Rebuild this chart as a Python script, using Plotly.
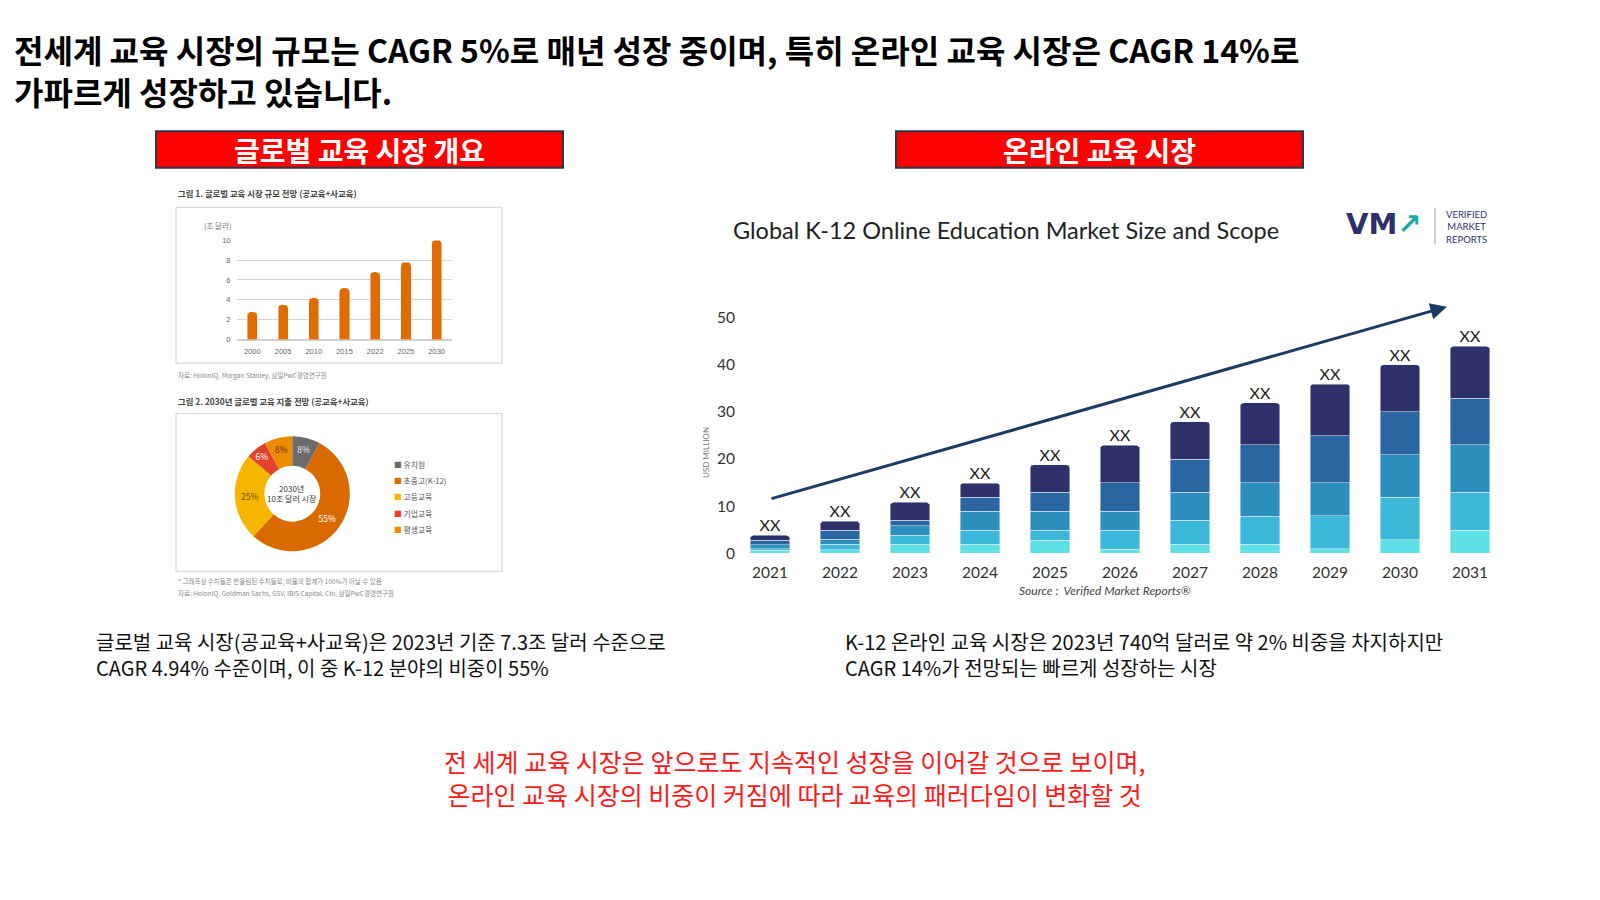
import plotly.graph_objects as go

# page body keeps its default 8px margin, so the figure is drawn 8px smaller
OFF = 8
W, H = 1600 - OFF, 900 - OFF
KR = "Noto Sans CJK KR"


def px(x):
    return (x - OFF) / W


def py(y):
    return 1 - (y - OFF) / H


# 그림 1: 글로벌 교육 시장 규모 (조 달러)
size_years = ['2000', '2005', '2010', '2015', '2022', '2025', '2030']
size_values = [2.8, 3.5, 4.2, 5.2, 6.8, 7.8, 10.0]

# 그림 2: 2030년 글로벌 교육 지출 비중 (%)
spend_labels = ['유치원', '초중고(K-12)', '고등교육', '기업교육', '평생교육']
spend_share = [8, 55, 25, 6, 8]
spend_colors = ['#6b6b6b', '#d96a00', '#f7b500', '#e3432b', '#ec8b00']
spend_text_colors = ['#f2f2f2', '#ffffff', '#6a4a00', '#ffffff', '#5a3800']

# K-12 online education market, stacked segments (bottom -> top)
online_years = [2021, 2022, 2023, 2024, 2025, 2026, 2027, 2028, 2029, 2030, 2031]
seg_a = [0.6, 0.8, 1.9, 1.9, 2.8, 0.9, 1.9, 1.9, 1.0, 2.9, 4.9]
seg_b = [0.4, 1.1, 1.9, 3.0, 2.1, 4.0, 5.1, 6.0, 7.0, 9.0, 8.0]
seg_c = [0.8, 1.1, 2.1, 4.0, 4.0, 4.0, 5.9, 7.1, 7.0, 9.0, 10.1]
seg_d = [1.0, 1.9, 1.1, 3.0, 4.0, 6.1, 7.1, 8.0, 9.9, 9.1, 9.9]
seg_e = [1.0, 1.9, 3.8, 3.0, 5.9, 7.9, 7.9, 8.9, 11.0, 10.0, 11.0]
seg_colors = ['#5fe0e6', '#3cb9da', '#2c8fbe', '#2c66a2', '#2e3169']
bar_label = 'XX'
# trend arrow (start year/value -> end year/value)
trend_from = (2021.0, 11.5)
trend_to = (2030.67, 52.3)

fig = go.Figure()

# ---- left: bar chart ----
fig.add_trace(go.Bar(x=size_years, y=size_values, marker_color='#e06c00',
                     width=0.33, xaxis='x', yaxis='y', showlegend=False))

# ---- left: donut ----
fig.add_trace(go.Pie(labels=spend_labels, values=spend_share, hole=0.485,
                     sort=False, direction='clockwise', rotation=0,
                     marker=dict(colors=spend_colors),
                     texttemplate='%{value}%', textposition='inside',
                     insidetextorientation='horizontal',
                     textfont=dict(family=KR, size=8.5, color=spend_text_colors),
                     domain=dict(x=[px(234), px(350.6)], y=[py(554.6), py(438)]),
                     showlegend=False, hoverinfo='label+percent'))

# ---- right: stacked bars ----
segs = [seg_a, seg_b, seg_c, seg_d, seg_e]
for seg, col in zip(segs, seg_colors):
    fig.add_trace(go.Bar(x=online_years, y=seg, marker_color=col, width=0.57,
                         xaxis='x2', yaxis='y2', showlegend=False))
totals = [round(sum(v), 1) for v in zip(*segs)]
fig.add_trace(go.Scatter(x=online_years, y=totals, mode='text',
                         text=[bar_label] * len(online_years), textposition='top center',
                         textfont=dict(family='Lato', size=16, color='#222'),
                         xaxis='x2', yaxis='y2', showlegend=False, hoverinfo='skip'))

ann = []


def txt(x, y, s, size, color='#000', xa='left', ya='middle', family=KR, **kw):
    ann.append(dict(x=px(x), y=py(y), xref='paper', yref='paper', text=s,
                    showarrow=False, xanchor=xa, yanchor=ya,
                    font=dict(family=family, size=size, color=color), **kw))


# headline
txt(12, 67, '<b>전세계 교육 시장의 규모는 CAGR 5%로 매년 성장 중이며, 특히 온라인 교육 시장은 CAGR 14%로</b>'
    '<br><b>가파르게 성장하고 있습니다.</b>', 32, align='left')

# section headers
txt(359.5, 147.5, '<b>글로벌 교육 시장 개요</b>', 28, '#ffffff', xa='center')
txt(1099.5, 147.5, '<b>온라인 교육 시장</b>', 28, '#ffffff', xa='center')

# left figure captions
txt(176, 191, '<b>그림 1. 글로벌 교육 시장 규모 전망 (공교육+사교육)</b>', 8.4, '#444')
txt(217, 224, '(조 달러)', 7.5, '#777', xa='center')
txt(176, 376, '자료: HolonIQ, Morgan Stanley, 삼일PwC경영연구원', 6.5, '#888')
txt(176, 402, '<b>그림 2. 2030년 글로벌 교육 지출 전망 (공교육+사교육)</b>', 8.4, '#444')
txt(292.3, 496.3, '2030년<br>10조 달러 시장', 8, '#333', xa='center')
for i, (lab, col) in enumerate(zip(spend_labels, spend_colors)):
    txt(392, 466.7 + 16.4 * i, f'<span style="color:{col}">■</span> {lab}', 7.8, '#555')
txt(176, 585, '* 그래프상 수치들은 반올림된 수치들로, 비율의 합계가 100%가 아닐 수 있음', 6.5, '#888')
txt(176, 597, '자료: HolonIQ, Goldman Sachs, GSV, IBIS Capital, Citi, 삼일PwC경영연구원', 6.5, '#888')

# right chart texts
txt(731, 229, 'Global K-12 Online Education Market Size and Scope', 23.5, '#222', family='Lato')
txt(1344, 223, '<b>VM</b><span style="color:#1fa9a3"><b>↗</b></span>', 29, '#2e3169',
    family='DejaVu Sans')
txt(1444, 226, 'VERIFIED<br>MARKET<br>REPORTS', 9.5, '#2e3169', family='Lato')
txt(706, 455, 'USD MILLION', 8, '#777', xa='center', family='Lato', textangle=-90)
txt(1105, 594, '<i>Source :  Verified Market Reports®</i>', 12, '#444', xa='center',
    family='Lato')

# descriptions
txt(94, 659, '글로벌 교육 시장(공교육+사교육)은 2023년 기준 7.3조 달러 수준으로'
    '<br>CAGR 4.94% 수준이며, 이 중 K-12 분야의 비중이 55%', 20, '#111', align='left')
txt(843, 659, 'K-12 온라인 교육 시장은 2023년 740억 달러로 약 2% 비중을 차지하지만'
    '<br>CAGR 14%가 전망되는 빠르게 성장하는 시장', 20, '#111', align='left')

# conclusion
txt(794, 784, '전 세계 교육 시장은 앞으로도 지속적인 성장을 이어갈 것으로 보이며,'
    '<br>온라인 교육 시장의 비중이 커짐에 따라 교육의 패러다임이 변화할 것',
    25, '#ff1a1a', xa='center', align='center')

# trend arrow
ann.append(dict(x=trend_to[0], y=trend_to[1], ax=trend_from[0], ay=trend_from[1],
                xref='x2', yref='y2', axref='x2', ayref='y2', text='',
                showarrow=True, arrowhead=2, arrowsize=1.1, arrowwidth=3,
                arrowcolor='#1d3b62', standoff=0))

shapes = [
    dict(type='rect', xref='paper', yref='paper', x0=px(156), x1=px(563), y0=py(166), y1=py(129),
         fillcolor='#ff0000', line=dict(color='#2b3847', width=2)),
    dict(type='rect', xref='paper', yref='paper', x0=px(896), x1=px(1303), y0=py(166), y1=py(129),
         fillcolor='#ff0000', line=dict(color='#2b3847', width=2)),
    dict(type='rect', xref='paper', yref='paper', x0=px(176), x1=px(502), y0=py(364), y1=py(206),
         fillcolor='rgba(0,0,0,0)', line=dict(color='#dadada', width=1.2)),
    dict(type='rect', xref='paper', yref='paper', x0=px(176), x1=px(502), y0=py(575), y1=py(415),
         fillcolor='rgba(0,0,0,0)', line=dict(color='#dadada', width=1.2)),
    dict(type='line', xref='paper', yref='paper', x0=px(1435), x1=px(1435), y0=py(243), y1=py(207),
         line=dict(color='#9a9a9a', width=1)),
]

fig.update_layout(
    width=W, height=H, margin=dict(l=0, r=0, t=0, b=0, pad=0),
    paper_bgcolor='white', plot_bgcolor='white',
    barmode='stack', barcornerradius=4,
    annotations=ann, shapes=shapes,
    xaxis=dict(domain=[px(237), px(452)], anchor='y', type='category',
               showgrid=False, showline=False, ticks='outside', ticklen=4,
               tickcolor='rgba(0,0,0,0)',
               tickfont=dict(family='Liberation Sans', size=7.5, color='#666')),
    yaxis=dict(domain=[py(340), py(239.3)], anchor='x', range=[0, 10], dtick=2,
               showgrid=True, gridcolor='#d6d6d6', zeroline=True, zerolinecolor='#cfcfcf',
               showline=False, ticks='outside', ticklen=4, tickcolor='rgba(0,0,0,0)',
               tickfont=dict(family='Liberation Sans', size=7.5, color='#666')),
    xaxis2=dict(domain=[px(745), px(1505)], anchor='y2', range=[2020.643, 2031.5],
                tickvals=online_years, showgrid=False, zeroline=False, showline=False,
                ticks='outside', ticklen=5, tickcolor='rgba(0,0,0,0)',
                tickfont=dict(family='Lato', size=15.5, color='#333')),
    yaxis2=dict(domain=[py(556.7), py(298.6)], anchor='x2', range=[0, 54],
                tickvals=[0, 10, 20, 30, 40, 50], showgrid=False, zeroline=False,
                showline=False, ticks='outside', ticklen=6, tickcolor='rgba(0,0,0,0)',
                tickfont=dict(family='Lato', size=15.5, color='#333')),
)

fig.write_html("out.html")
